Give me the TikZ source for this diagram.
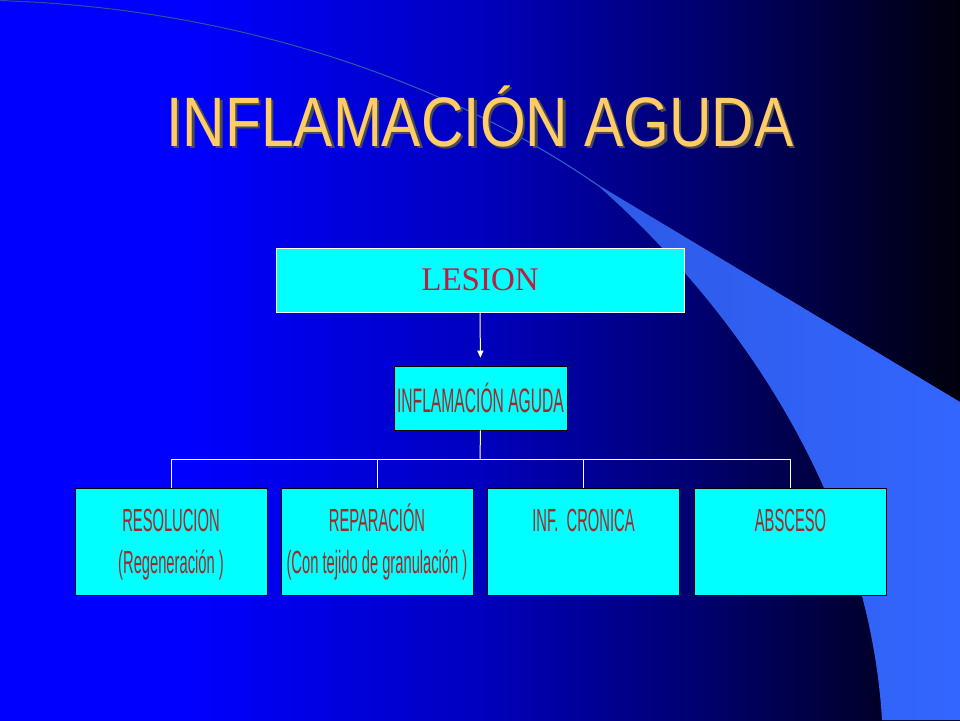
\documentclass[tikz,border=0pt]{standalone}
\usepackage{fontspec}
\setmainfont{Liberation Serif}
\newfontfamily\titulofont[FakeStretch=0.84]{Liberation Sans}
\newfontfamily\cajafont[FakeStretch=0.46]{Liberation Sans}
\usetikzlibrary{arrows.meta}

\definecolor{azulfondo}{RGB}{0,0,255}
\definecolor{azulmedio}{RGB}{0,0,190}
\definecolor{azuloscuro}{RGB}{0,0,110}
\definecolor{casinegro}{RGB}{0,0,12}
\definecolor{estela}{RGB}{51,102,255}
\definecolor{estelaosc}{RGB}{36,70,190}
\definecolor{cian}{RGB}{0,255,255}
\definecolor{amarillo}{RGB}{255,204,102}
\definecolor{rojolesion}{RGB}{190,30,60}
\definecolor{rojocaja}{RGB}{165,40,40}

\pgfdeclarehorizontalshading{fondo}{100bp}{color(0bp)=(azulfondo); color(35bp)=(azulfondo);
  color(50bp)=(azulmedio); color(61.5bp)=(azuloscuro); color(75bp)=(casinegro); color(100bp)=(casinegro)}
\newcommand{\alto}{\vphantom{ÓÁ(}}

\begin{document}
\begin{tikzpicture}[x=1pt,y=-1pt,
		caja/.style={draw=black,line width=.6pt,fill=cian,inner sep=0pt},
		hijo/.style={caja,minimum width=192pt,minimum height=107pt,align=center,
			text=rojocaja,font=\cajafont\fontsize{32}{42}\selectfont},
		conector/.style={draw=white,line width=1pt},
		flecha/.style={conector,-{Triangle[width=6pt,length=7pt]},shorten >=8pt}]
		\useasboundingbox (0,0) rectangle (960,720);
		\fill[shading=fondo] (0,0) rectangle (960,720);
		%%%%%%%%%%%%%%%%%%%%%%%%%%%%%%%%%
		\fill[left color=estelaosc,right color=estela] (0,0) .. controls (260,8) and (470,95) .. (600,186)
			-- (960,402) -- (960,720) -- (882,720) .. controls (870,520) and (760,330) .. (600,187.5)
			.. controls (470,96.2) and (260,9.2) .. (0,1.2) -- cycle;
		%%%%%%%%%%%%%%%%%%%%%%%%%%%%%%%%%
		\node[anchor=base,text=black!70,font=\titulofont\fontsize{70}{84}\selectfont] (sombra) at (482.5,148.5){INFLAMACIÓN AGUDA};
		\node[anchor=base,text=amarillo,font=\titulofont\fontsize{70}{84}\selectfont] (titulo) at (480,146){INFLAMACIÓN AGUDA};
		%%%%%%%%%%%%%%%%%%%%%%%%%%%%%%%%%
		\node[caja,draw=white,minimum width=408pt,minimum height=64pt,text=rojolesion,
			font=\fontsize{33}{40}\selectfont] (lesion) at (480,280){LESION};
		\node[caja,minimum width=173pt,minimum height=64pt,text=rojocaja,
			font=\cajafont\fontsize{34}{40}\selectfont] (infl) at (480.5,398){INFLAMACIÓN AGUDA};
		\draw[flecha] (lesion.south) -- (infl.north);
		%%%%%%%%%%%%%%%%%%%%%%%%%%%%%%%%%
		\node[hijo] (resol) at (171,541.5){\alto RESOLUCION\\(Regeneración )};
		\node[hijo] (repar) at (377,541.5){\alto REPARACIÓN\\(Con tejido de granulación )};
		\node[hijo] (cronica) at (583.5,541.5){\alto INF.\ \ CRONICA\\\phantom{(}};
		\node[hijo] (absceso) at (790.5,541.5){\alto ABSCESO\\\phantom{(}};
		\coordinate (bus) at (480,459);
		\draw[conector] (infl.south) -- (bus);
		\foreach \n in {resol,repar,cronica,absceso}
			\draw[conector] (\n.north) |- (bus);
\end{tikzpicture}
\end{document}
